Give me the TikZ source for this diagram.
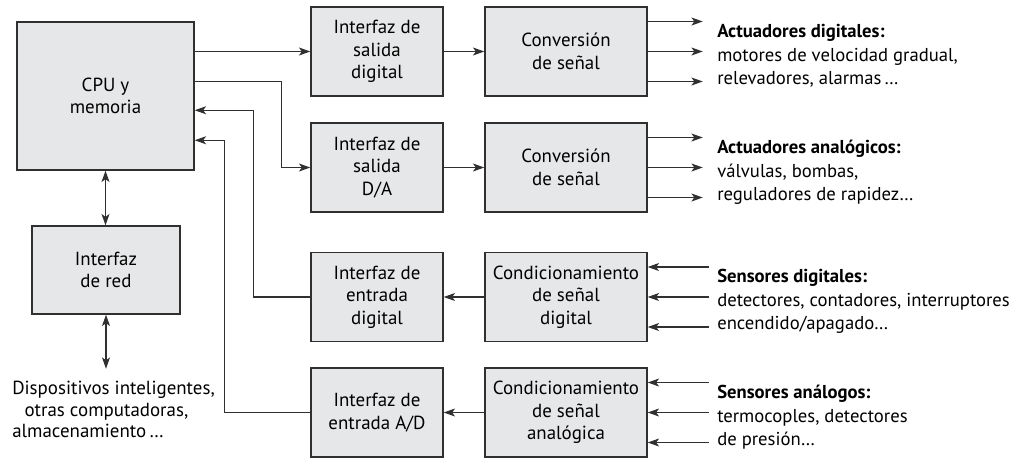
\documentclass[tikz,border=0pt]{standalone}
\usepackage{fontspec}
\setmainfont{PT Sans}
\usetikzlibrary{arrows.meta, positioning, calc}
\definecolor{grisbloque}{HTML}{E6E7E8}
\definecolor{lineagris}{HTML}{303030}

\tikzset{
  >={Stealth[length=8.5pt, width=6pt, inset=2.2pt]},
  bloque/.style={draw=lineagris, fill=grisbloque, line width=1.1pt, align=center,
                 inner sep=1pt, minimum width=99pt, minimum height=66.5pt},
  ancho/.style={minimum width=121.5pt},
  flecha/.style={->, line width=0.8pt, draw=lineagris},
  doble/.style={<->, line width=0.8pt, draw=lineagris},
  rotulo/.style={anchor=north west, align=left, inner sep=0pt,
                 font=\fontsize{14}{17.6}\selectfont},
}

\begin{document}
\begin{tikzpicture}[x=0.75pt, y=0.75pt, font=\fontsize{14.2}{17}\selectfont]
  \useasboundingbox (0,0) rectangle (1032,-458);

  % bloques
  \node[bloque, minimum width=132.75pt, minimum height=111pt] (cpu) at (105.5,-96) {CPU y\\memoria};
  \node[bloque, minimum width=111pt, minimum height=66pt] (red) at (106,-270) {Interfaz\\de red};

  \node[bloque] (sdig) at (377,-51.5)  {Interfaz de\\salida\\digital};
  \node[bloque] (sda)  at (377,-167.5) {Interfaz de\\salida\\D/A};
  \node[bloque] (edig) at (377,-297)   {Interfaz de\\entrada\\digital};
  \node[bloque] (ead)  at (377,-412.5) {Interfaz de\\entrada A/D};

  \node[bloque, ancho] (conv1) at (566,-51.5)  {Conversión\\de señal};
  \node[bloque, ancho] (conv2) at (566,-167.5) {Conversión\\de señal};
  \node[bloque, ancho] (cond1) at (566,-297)   {Condicionamiento\\de señal\\digital};
  \node[bloque, ancho] (cond2) at (566,-412.5) {Condicionamiento\\de señal\\analógica};

  % rotulos
  \node[rotulo] (actdig) at (717,-24)  {\textbf{Actuadores digitales:}\\motores de velocidad gradual,\\relevadores, alarmas\,\dots};
  \node[rotulo] (actana) at (717,-140) {\textbf{Actuadores analógicos:}\\válvulas, bombas,\\reguladores de rapidez\dots};
  \node[rotulo] (sendig) at (717,-269) {\textbf{Sensores digitales:}\\detectores, contadores, interruptores\\encendido/apagado\dots};
  \node[rotulo] (senana) at (717,-385) {\textbf{Sensores análogos:}\\termocoples, detectores\\de presión\dots};
  \node[rotulo, font=\fontsize{14.2}{16}\selectfont] (disp) at (12,-381)
    {Dispositivos inteligentes,\\\hspace*{0.65em}otras computadoras,\\almacenamiento\,\dots};

  % conexiones CPU
  \draw[flecha] (cpu.east |- sdig.west) -- (sdig.west);
  \draw[flecha] ($(cpu.north east)+(0,-60)$) -| ($(sda.west)+(-29,0)$) -- (sda.west);
  \draw[flecha] (edig.west) -- ++(-57,0) |- ($(cpu.north east)+(0,-89)$);
  \draw[flecha] (ead.west) -- ++(-86,0) |- ($(cpu.north east)+(0,-119)$);

  \draw[doble] (cpu.south) -- (cpu.south |- red.north);
  \coordinate (dispfin) at ($(red.south)+(0,-54)$);
  \draw[doble] (red.south) -- (dispfin);

  % bloques intermedios
  \draw[flecha] (sdig) -- (conv1);
  \draw[flecha] (sda) -- (conv2);
  \draw[flecha] (cond1) -- (edig);
  \draw[flecha] (cond2) -- (ead);

  % salidas y entradas
  \foreach \dy in {30,0,-30}{%
    \draw[flecha] ($(conv1.east)+(0,\dy)$) -- ++(55,0);
    \draw[flecha] ($(conv2.east)+(0,\dy)$) -- ++(55,0);
    \draw[flecha] ($(cond1.east)+(61,\dy)$) -- ($(cond1.east)+(0,\dy)$);
    \draw[flecha] ($(cond2.east)+(61,\dy)$) -- ($(cond2.east)+(0,\dy)$);
  }
\end{tikzpicture}
\end{document}
